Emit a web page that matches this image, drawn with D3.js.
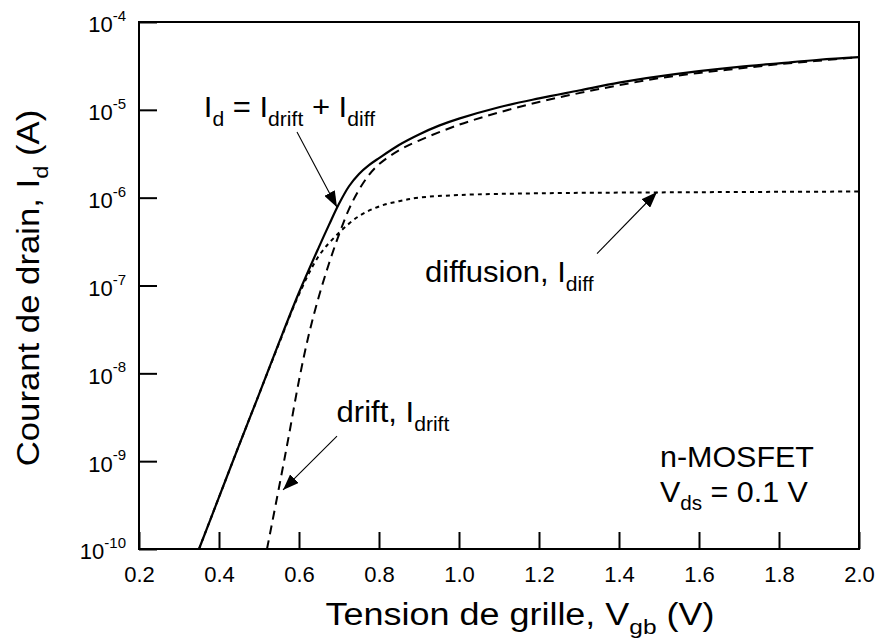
<!DOCTYPE html>
<html><head><meta charset="utf-8">
<script src="https://cdn.jsdelivr.net/npm/d3@7"></script>
<style>body{margin:0;background:#fff}text{font-family:"Liberation Sans",Arial,Helvetica,sans-serif;fill:#000}</style>
</head><body><svg id="c" width="878" height="639"></svg>
<script>
// Gate voltage grids (V) and log10 of currents (A)
const vgId = [0.35,0.40,0.45,0.50,0.55,0.60,0.65,0.675,0.70,0.725,0.75,0.775,0.80,0.85,0.90,0.95,1.00,1.10,1.20,1.30,1.40,1.50,1.60,1.70,1.80,1.90,2.00];
const logId = [-10.0,-9.41,-8.82,-8.24,-7.65,-7.08,-6.56,-6.31,-6.07,-5.87,-5.73,-5.63,-5.55,-5.40,-5.28,-5.18,-5.10,-4.97,-4.87,-4.78,-4.69,-4.62,-4.56,-4.51,-4.47,-4.43,-4.40];
const vgDrift = [0.52,0.55,0.575,0.60,0.625,0.65,0.675,0.70,0.725,0.75,0.775,0.80,0.85,0.90,1.00,1.10,1.20,1.30,1.40,1.50,1.60,1.70,1.80,1.90,2.00];
const logDrift = [-10.0,-9.30,-8.70,-8.08,-7.55,-7.12,-6.75,-6.42,-6.13,-5.91,-5.74,-5.62,-5.46,-5.35,-5.17,-5.03,-4.91,-4.81,-4.72,-4.64,-4.58,-4.53,-4.48,-4.44,-4.40];
const vgDiff = [0.35,0.40,0.45,0.50,0.55,0.60,0.65,0.70,0.75,0.80,0.85,0.90,1.00,1.20,1.50,2.00];
const logDiff = [-10.0,-9.41,-8.82,-8.24,-7.66,-7.10,-6.66,-6.40,-6.21,-6.10,-6.04,-6.00,-5.97,-5.95,-5.94,-5.93];
const xTicks = [0.2,0.4,0.6,0.8,1.0,1.2,1.4,1.6,1.8,2.0];
const yTickExp = [-10,-9,-8,-7,-6,-5,-4];
// annotation arrows: [V, A]
const arrows = [
  {from:[0.595,5.6e-6], to:[0.695,7.8e-7]},
  {from:[1.345,2.3e-7], to:[1.495,1.16e-6]},
  {from:[0.695,1.93e-9], to:[0.56,4.7e-10]}
];

const svg = d3.select("#c");
const L=139, R=859, T=22, B=549;
const x = d3.scaleLinear().domain([0.2,2.0]).range([L,R]);
const y = d3.scaleLog().domain([1e-10,1e-4]).range([B,T]);
const FONT="Liberation Sans, Arial, sans-serif";

// axes
const gx = svg.append("g").attr("transform",`translate(0,${B})`)
  .call(d3.axisBottom(x).tickValues(xTicks).tickFormat(d3.format(".1f")).tickSize(-17).tickPadding(17));
const gy = svg.append("g").attr("transform",`translate(${L},0)`)
  .call(d3.axisLeft(y).tickValues(yTickExp.map(e=>Math.pow(10,e))).tickFormat("").tickSize(-18).tickPadding(13));
[gx,gy].forEach(g=>{g.select(".domain").remove();g.selectAll(".tick line").attr("stroke","#000").attr("stroke-width",2);});
gx.selectAll(".tick text").attr("font-size",22).attr("font-family",FONT).attr("fill","#000");
gy.selectAll(".tick text").each(function(d){
  const t=d3.select(this).attr("font-size",22).attr("font-family",FONT).attr("fill","#000").attr("dy","0.45em").attr("x",-13);
  t.append("tspan").text("10");
  t.append("tspan").attr("font-size",15).attr("dy","-0.75em").text(Math.round(Math.log10(d)));
});

// frame
svg.append("rect").attr("x",L).attr("y",T).attr("width",R-L).attr("height",B-T)
  .attr("fill","none").attr("stroke","#000").attr("stroke-width",2);

// curves
const line = (xs)=>d3.line().x((d,i)=>x(xs[i])).y(d=>y(Math.pow(10,d))).curve(d3.curveCatmullRom.alpha(0.5));
const plot = svg.append("g");
plot.append("path").attr("d",line(vgDiff)(logDiff)).attr("fill","none").attr("stroke","#000").attr("stroke-width",2).attr("stroke-dasharray","4,4");
plot.append("path").attr("d",line(vgDrift)(logDrift)).attr("fill","none").attr("stroke","#000").attr("stroke-width",2).attr("stroke-dasharray","9,6");
plot.append("path").attr("d",line(vgId)(logId)).attr("fill","none").attr("stroke","#000").attr("stroke-width",2.2);

// arrows
svg.append("defs").append("marker").attr("id","ah").attr("viewBox","0 0 16 12").attr("refX",16).attr("refY",6)
  .attr("markerWidth",16).attr("markerHeight",12).attr("markerUnits","userSpaceOnUse").attr("orient","auto")
  .append("path").attr("d","M0,0 L16,6 L0,12 Z").attr("fill","#000");
arrows.forEach(a=>{
  svg.append("line").attr("x1",x(a.from[0])).attr("y1",y(a.from[1])).attr("x2",x(a.to[0])).attr("y2",y(a.to[1]))
    .attr("stroke","#000").attr("stroke-width",1.1).attr("marker-end","url(#ah)");
});

// rich text helper
function rich(px,py,parts,size,sx,anchor,rot){
  const t=svg.append("text").attr("transform",`translate(${px},${py}) rotate(${rot||0}) scale(${sx},1)`)
    .attr("font-size",size).attr("text-anchor",anchor||"start");
  let shifted=false;
  parts.forEach(p=>{
    const s=t.append("tspan").text(p[0]);
    if(p[1]==="sub"){s.attr("font-size",size*0.68).attr("dy",shifted?0:size*0.3);shifted=true;}
    else if(shifted){s.attr("dy",-size*0.3);shifted=false;}
  });
  return t;
}
rich(x(0.362),y(8.3e-6),[["I"],["d","sub"],[" = I"],["drift","sub"],[" + I"],["diff","sub"]],29,1.07);
rich(x(0.915),y(1.1e-7),[["diffusion, I"],["diff","sub"]],29,1.07);
rich(x(0.694),y(2.8e-9),[["drift, I"],["drift","sub"]],29,1.07);
rich(x(1.5025),y(8.6e-10),[["n-MOSFET"]],29,1.05);
rich(x(1.5025),y(3.45e-10),[["V"],["ds","sub"],[" = 0.1 V"]],29,1.05);

// axis titles
rich(520,625,[["Tension de grille, V"],["gb","sub"],[" (V)"]],31,1.16,"middle");
rich(39,288,[["Courant de drain, I"],["d","sub"],[" (A)"]],31,1.12,"middle",-90);
</script></body></html>
